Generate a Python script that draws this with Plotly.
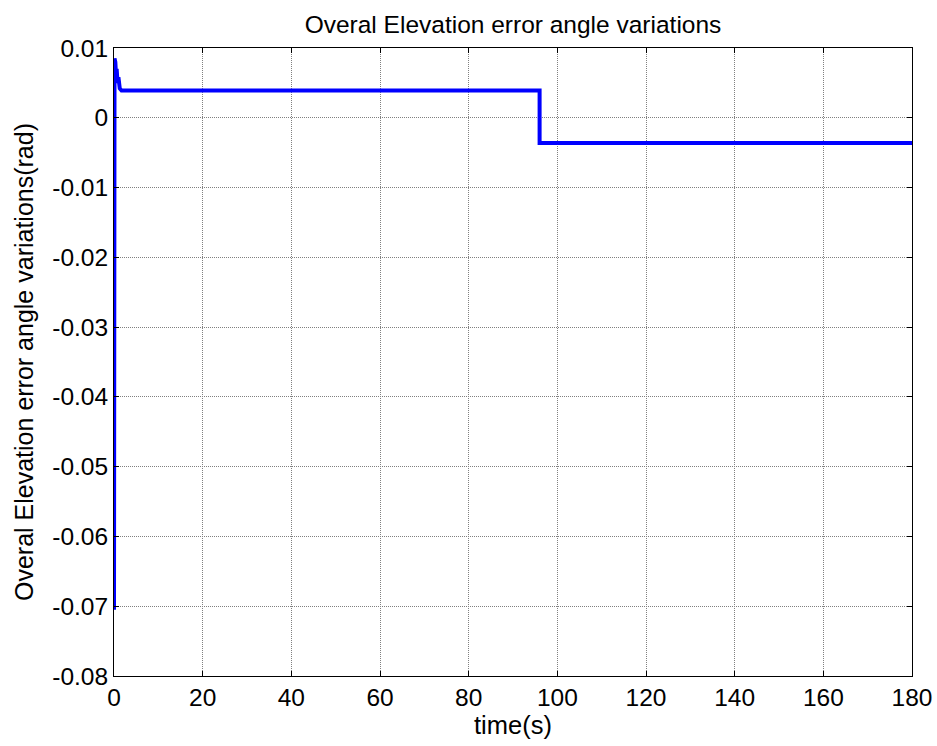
import plotly.graph_objects as go

time_s = [0, 0.12, 0.3, 0.45, 0.6, 0.8, 1.0, 1.3, 1.7, 96, 96, 180]
error_rad = [-0.0705, 0.0085, 0.0080, 0.0062, 0.0070, 0.0050, 0.0058, 0.0042, 0.0039, 0.0039, -0.0036, -0.0036]
x_ticks = [0, 20, 40, 60, 80, 100, 120, 140, 160, 180]
y_ticks = [-0.08, -0.07, -0.06, -0.05, -0.04, -0.03, -0.02, -0.01, 0, 0.01]
y_tick_text = ["-0.08", "-0.07", "-0.06", "-0.05", "-0.04", "-0.03", "-0.02", "-0.01", "0", "0.01"]

font = "Liberation Sans, Arial, sans-serif"

fig = go.Figure()
fig.add_trace(go.Scatter(x=time_s, y=error_rad, mode="lines",
                         line=dict(color="#0000FF", width=4), showlegend=False))

axis_common = dict(showline=True, linecolor="black", linewidth=1, mirror="ticks",
                   ticks="inside", ticklen=5, tickcolor="black", automargin=False,
                   showgrid=True, gridcolor="#808080", gridwidth=1, griddash="1px,1px",
                   zeroline=False, tickfont=dict(family=font, size=24.5, color="black"))

fig.update_layout(
    width=937, height=746,
    margin=dict(l=114, r=25, t=48, b=70),
    paper_bgcolor="white", plot_bgcolor="white",
    title=dict(text="Overal Elevation error angle variations", x=(114 + 912) / 2 / 937, xanchor="center",
               y=1 - 24/746, yanchor="middle", automargin=False,
               font=dict(family=font, size=24.5, color="black")),
    xaxis=dict(range=[0, 180], tickvals=x_ticks,
               title=dict(text="time(s)", font=dict(family=font, size=25.5, color="black"), standoff=0),
               **axis_common),
    yaxis=dict(range=[-0.08, 0.01], tickvals=y_ticks, ticktext=y_tick_text,
               title=dict(text="Overal Elevation error angle variations(rad)",
                          font=dict(family=font, size=25, color="black"), standoff=11),
               **axis_common),
)

fig.write_html("out.html")
